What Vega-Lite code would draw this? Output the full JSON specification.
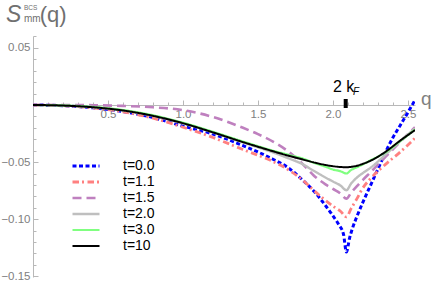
{
  "$schema": "https://vega.github.io/schema/vega-lite/v6.json",
  "width": 382,
  "height": 241,
  "autosize": {"type": "none"},
  "padding": {"left": 33, "top": 36, "right": 21, "bottom": 9},
  "config": {"view": {"stroke": null}, "font": "Liberation Sans"},
  "datasets": {
    "curves": [
      {"q": 0, "S": 0, "t": "t=0.0"}, {"q": 0.2, "S": -0.0006, "t": "t=0.0"}, {"q": 0.4, "S": -0.0025, "t": "t=0.0"}, {"q": 0.6, "S": -0.0058, "t": "t=0.0"}, {"q": 0.8, "S": -0.011, "t": "t=0.0"}, {"q": 1.0, "S": -0.0185, "t": "t=0.0"}, {"q": 1.2, "S": -0.0255, "t": "t=0.0"}, {"q": 1.4, "S": -0.0355, "t": "t=0.0"}, {"q": 1.6, "S": -0.0475, "t": "t=0.0"}, {"q": 1.7, "S": -0.0548, "t": "t=0.0"}, {"q": 1.8, "S": -0.066, "t": "t=0.0"}, {"q": 1.87, "S": -0.075, "t": "t=0.0"}, {"q": 1.95, "S": -0.088, "t": "t=0.0"}, {"q": 2.0, "S": -0.097, "t": "t=0.0"}, {"q": 2.04, "S": -0.105, "t": "t=0.0"}, {"q": 2.07, "S": -0.113, "t": "t=0.0"}, {"q": 2.09, "S": -0.1287, "t": "t=0.0"}, {"q": 2.11, "S": -0.117, "t": "t=0.0"}, {"q": 2.13, "S": -0.108, "t": "t=0.0"}, {"q": 2.16, "S": -0.0975, "t": "t=0.0"}, {"q": 2.2, "S": -0.085, "t": "t=0.0"}, {"q": 2.25, "S": -0.0705, "t": "t=0.0"}, {"q": 2.3, "S": -0.056, "t": "t=0.0"}, {"q": 2.35, "S": -0.0415, "t": "t=0.0"}, {"q": 2.4, "S": -0.0285, "t": "t=0.0"}, {"q": 2.45, "S": -0.0175, "t": "t=0.0"}, {"q": 2.5, "S": -0.0065, "t": "t=0.0"}, {"q": 2.547, "S": 0.0044, "t": "t=0.0"},

      {"q": 0, "S": 0, "t": "t=1.1"}, {"q": 0.2, "S": -0.0006, "t": "t=1.1"}, {"q": 0.4, "S": -0.0025, "t": "t=1.1"}, {"q": 0.6, "S": -0.006, "t": "t=1.1"}, {"q": 0.8, "S": -0.0115, "t": "t=1.1"}, {"q": 1.0, "S": -0.0195, "t": "t=1.1"}, {"q": 1.2, "S": -0.0285, "t": "t=1.1"}, {"q": 1.4, "S": -0.039, "t": "t=1.1"}, {"q": 1.6, "S": -0.0495, "t": "t=1.1"}, {"q": 1.7, "S": -0.0565, "t": "t=1.1"}, {"q": 1.8, "S": -0.066, "t": "t=1.1"}, {"q": 1.87, "S": -0.0745, "t": "t=1.1"}, {"q": 1.95, "S": -0.0835, "t": "t=1.1"}, {"q": 2.0, "S": -0.0885, "t": "t=1.1"}, {"q": 2.05, "S": -0.093, "t": "t=1.1"}, {"q": 2.09, "S": -0.098, "t": "t=1.1"}, {"q": 2.12, "S": -0.091, "t": "t=1.1"}, {"q": 2.16, "S": -0.082, "t": "t=1.1"}, {"q": 2.2, "S": -0.0725, "t": "t=1.1"}, {"q": 2.25, "S": -0.0645, "t": "t=1.1"}, {"q": 2.35, "S": -0.052, "t": "t=1.1"}, {"q": 2.45, "S": -0.041, "t": "t=1.1"}, {"q": 2.547, "S": -0.029, "t": "t=1.1"},

      {"q": 0, "S": 0, "t": "t=1.5"}, {"q": 0.2, "S": 0, "t": "t=1.5"}, {"q": 0.4, "S": -0.0002, "t": "t=1.5"}, {"q": 0.6, "S": -0.0008, "t": "t=1.5"}, {"q": 0.8, "S": -0.002, "t": "t=1.5"}, {"q": 1.0, "S": -0.0045, "t": "t=1.5"}, {"q": 1.2, "S": -0.0105, "t": "t=1.5"}, {"q": 1.4, "S": -0.02, "t": "t=1.5"}, {"q": 1.5, "S": -0.0255, "t": "t=1.5"}, {"q": 1.6, "S": -0.032, "t": "t=1.5"}, {"q": 1.7, "S": -0.0405, "t": "t=1.5"}, {"q": 1.8, "S": -0.052, "t": "t=1.5"}, {"q": 1.87, "S": -0.0615, "t": "t=1.5"}, {"q": 1.95, "S": -0.0695, "t": "t=1.5"}, {"q": 2.0, "S": -0.0735, "t": "t=1.5"}, {"q": 2.05, "S": -0.0775, "t": "t=1.5"}, {"q": 2.09, "S": -0.082, "t": "t=1.5"}, {"q": 2.12, "S": -0.077, "t": "t=1.5"}, {"q": 2.16, "S": -0.071, "t": "t=1.5"}, {"q": 2.2, "S": -0.0655, "t": "t=1.5"}, {"q": 2.25, "S": -0.059, "t": "t=1.5"}, {"q": 2.35, "S": -0.0455, "t": "t=1.5"}, {"q": 2.45, "S": -0.032, "t": "t=1.5"}, {"q": 2.547, "S": -0.0195, "t": "t=1.5"},

      {"q": 0, "S": 0, "t": "t=2.0"}, {"q": 0.2, "S": -0.0005, "t": "t=2.0"}, {"q": 0.4, "S": -0.002, "t": "t=2.0"}, {"q": 0.6, "S": -0.0048, "t": "t=2.0"}, {"q": 0.8, "S": -0.0095, "t": "t=2.0"}, {"q": 1.0, "S": -0.016, "t": "t=2.0"}, {"q": 1.2, "S": -0.024, "t": "t=2.0"}, {"q": 1.4, "S": -0.0328, "t": "t=2.0"}, {"q": 1.6, "S": -0.0415, "t": "t=2.0"}, {"q": 1.7, "S": -0.0465, "t": "t=2.0"}, {"q": 1.8, "S": -0.052, "t": "t=2.0"}, {"q": 1.87, "S": -0.0575, "t": "t=2.0"}, {"q": 1.95, "S": -0.0635, "t": "t=2.0"}, {"q": 2.0, "S": -0.067, "t": "t=2.0"}, {"q": 2.05, "S": -0.0705, "t": "t=2.0"}, {"q": 2.09, "S": -0.0746, "t": "t=2.0"}, {"q": 2.12, "S": -0.069, "t": "t=2.0"}, {"q": 2.16, "S": -0.0635, "t": "t=2.0"}, {"q": 2.2, "S": -0.0595, "t": "t=2.0"}, {"q": 2.25, "S": -0.055, "t": "t=2.0"}, {"q": 2.35, "S": -0.0435, "t": "t=2.0"}, {"q": 2.45, "S": -0.0315, "t": "t=2.0"}, {"q": 2.547, "S": -0.0205, "t": "t=2.0"},

      {"q": 0, "S": 0, "t": "t=3.0"}, {"q": 0.2, "S": -0.0004, "t": "t=3.0"}, {"q": 0.4, "S": -0.0017, "t": "t=3.0"}, {"q": 0.6, "S": -0.0044, "t": "t=3.0"}, {"q": 0.8, "S": -0.009, "t": "t=3.0"}, {"q": 1.0, "S": -0.0155, "t": "t=3.0"}, {"q": 1.2, "S": -0.0235, "t": "t=3.0"}, {"q": 1.4, "S": -0.032, "t": "t=3.0"}, {"q": 1.6, "S": -0.04, "t": "t=3.0"}, {"q": 1.7, "S": -0.0435, "t": "t=3.0"}, {"q": 1.8, "S": -0.047, "t": "t=3.0"}, {"q": 1.87, "S": -0.0505, "t": "t=3.0"}, {"q": 1.95, "S": -0.054, "t": "t=3.0"}, {"q": 2.0, "S": -0.0565, "t": "t=3.0"}, {"q": 2.05, "S": -0.058, "t": "t=3.0"}, {"q": 2.09, "S": -0.06, "t": "t=3.0"}, {"q": 2.12, "S": -0.057, "t": "t=3.0"}, {"q": 2.16, "S": -0.0545, "t": "t=3.0"}, {"q": 2.2, "S": -0.052, "t": "t=3.0"}, {"q": 2.25, "S": -0.0485, "t": "t=3.0"}, {"q": 2.35, "S": -0.0415, "t": "t=3.0"}, {"q": 2.45, "S": -0.0315, "t": "t=3.0"}, {"q": 2.547, "S": -0.0215, "t": "t=3.0"},

      {"q": 0, "S": 0, "t": "t=10"}, {"q": 0.2, "S": -0.0005, "t": "t=10"}, {"q": 0.4, "S": -0.002, "t": "t=10"}, {"q": 0.6, "S": -0.0048, "t": "t=10"}, {"q": 0.8, "S": -0.0095, "t": "t=10"}, {"q": 1.0, "S": -0.016, "t": "t=10"}, {"q": 1.2, "S": -0.024, "t": "t=10"}, {"q": 1.4, "S": -0.0325, "t": "t=10"}, {"q": 1.6, "S": -0.0405, "t": "t=10"}, {"q": 1.7, "S": -0.0443, "t": "t=10"}, {"q": 1.8, "S": -0.0478, "t": "t=10"}, {"q": 1.87, "S": -0.0502, "t": "t=10"}, {"q": 1.95, "S": -0.0525, "t": "t=10"}, {"q": 2.0, "S": -0.0536, "t": "t=10"}, {"q": 2.05, "S": -0.0543, "t": "t=10"}, {"q": 2.09, "S": -0.0545, "t": "t=10"}, {"q": 2.12, "S": -0.0542, "t": "t=10"}, {"q": 2.16, "S": -0.0532, "t": "t=10"}, {"q": 2.2, "S": -0.0515, "t": "t=10"}, {"q": 2.25, "S": -0.0488, "t": "t=10"}, {"q": 2.35, "S": -0.041, "t": "t=10"}, {"q": 2.45, "S": -0.031, "t": "t=10"}, {"q": 2.547, "S": -0.022, "t": "t=10"}
    ],
    "kf": [{"q": 2.085, "S": 0.0013}],
    "kfLabel": [{"q": 2.0, "S": 0.0114, "text": "2 k"}],
    "kfSub": [{"q": 2.133, "S": 0.0088, "text": "F"}],
    "titleS": [{"q": -0.18, "S": 0.0727, "text": "S"}],
    "titleSup": [{"q": -0.06, "S": 0.0832, "text": "BCS"}],
    "titleSub": [{"q": -0.06, "S": 0.0729, "text": "mm"}],
    "titleArg": [{"q": 0.045, "S": 0.0727, "text": "(q)"}],
    "axisQ": [{"q": 2.587, "S": 0.0, "text": "q"}]
  },
  "encoding": {
    "x": {
      "field": "q", "type": "quantitative",
      "scale": {"domain": [0, 2.547], "nice": false, "zero": false},
      "axis": {
        "orient": "bottom", "offset": -172, "title": null, "grid": false,
        "values": [0.1, 0.2, 0.3, 0.4, 0.5, 0.6, 0.7, 0.8, 0.9, 1.0, 1.1, 1.2, 1.3, 1.4, 1.5, 1.6, 1.7, 1.8, 1.9, 2.0, 2.1, 2.2, 2.3, 2.4, 2.5],
        "labelExpr": "abs(datum.value*2 - round(datum.value*2)) < 0.001 ? format(datum.value, '.1f') : ''",
        "tickSize": {"condition": {"test": "abs(datum.value*2 - round(datum.value*2)) < 0.001", "value": -5}, "value": -3},
        "domainColor": "#b8b8b8", "tickColor": "#b8b8b8", "labelColor": "#808080",
        "labelFontSize": 11.5, "labelPadding": 8, "labelFlush": false, "labelOverlap": false
      }
    },
    "y": {
      "field": "S", "type": "quantitative",
      "scale": {"domain": [-0.1506, 0.0604], "nice": false, "zero": false},
      "axis": {
        "title": null, "grid": false,
        "values": [-0.15, -0.14, -0.13, -0.12, -0.11, -0.1, -0.09, -0.08, -0.07, -0.06, -0.05, -0.04, -0.03, -0.02, -0.01, 0.01, 0.02, 0.03, 0.04, 0.05, 0.06],
        "labelExpr": "abs(datum.value*20 - round(datum.value*20)) < 0.001 ? format(datum.value, '.2f') : ''",
        "tickSize": {"condition": {"test": "abs(datum.value*20 - round(datum.value*20)) < 0.001", "value": -5}, "value": -3},
        "domainColor": "#b8b8b8", "tickColor": "#b8b8b8", "labelColor": "#808080",
        "labelFontSize": 11.5, "labelPadding": 8, "labelFlush": false, "labelOverlap": false
      }
    }
  },
  "layer": [
    {
      "data": {"name": "curves"},
      "mark": {"type": "line", "interpolate": "monotone", "clip": true},
      "encoding": {
        "color": {
          "field": "t", "type": "nominal",
          "scale": {"domain": ["t=0.0", "t=1.1", "t=1.5", "t=2.0", "t=3.0", "t=10"], "range": ["#0000ff", "#ff8080", "#bf80bf", "#bfbfbf", "#80ff80", "#000000"]},
          "legend": {
            "orient": "none", "legendX": 46, "legendY": 123, "title": null,
            "symbolType": "M-2.7,0H2.7", "symbolSize": 100, "labelFontSize": 14, "labelColor": "#000000",
            "labelOffset": 30, "rowPadding": 2, "padding": 0
          }
        },
        "strokeDash": {
          "field": "t", "type": "nominal",
          "scale": {"domain": ["t=0.0", "t=1.1", "t=1.5", "t=2.0", "t=3.0", "t=10"], "range": [[4, 2.5], [6.5, 3, 2, 3.5], [9, 5], [1, 0], [1, 0], [1, 0]]}
        },
        "strokeWidth": {
          "field": "t", "type": "nominal",
          "scale": {"domain": ["t=0.0", "t=1.1", "t=1.5", "t=2.0", "t=3.0", "t=10"], "range": [3, 2, 2.5, 2, 2, 3]}
        }
      }
    },
    {
      "data": {"name": "kf"},
      "mark": {"type": "tick", "orient": "vertical", "size": 9, "thickness": 4, "color": "#000000", "opacity": 1}
    },
    {
      "data": {"name": "kfLabel"},
      "mark": {"type": "text", "align": "left", "baseline": "alphabetic", "fontSize": 16, "color": "#000000"},
      "encoding": {"text": {"field": "text"}}
    },
    {
      "data": {"name": "kfSub"},
      "mark": {"type": "text", "align": "left", "baseline": "alphabetic", "fontSize": 10, "fontStyle": "italic", "color": "#000000"},
      "encoding": {"text": {"field": "text"}}
    },
    {
      "data": {"name": "titleS"},
      "mark": {"type": "text", "align": "left", "baseline": "alphabetic", "fontSize": 23, "fontStyle": "italic", "color": "#707070"},
      "encoding": {"text": {"field": "text"}}
    },
    {
      "data": {"name": "titleSup"},
      "mark": {"type": "text", "align": "left", "baseline": "alphabetic", "fontSize": 6.5, "color": "#707070"},
      "encoding": {"text": {"field": "text"}}
    },
    {
      "data": {"name": "titleSub"},
      "mark": {"type": "text", "align": "left", "baseline": "alphabetic", "fontSize": 10, "color": "#707070"},
      "encoding": {"text": {"field": "text"}}
    },
    {
      "data": {"name": "titleArg"},
      "mark": {"type": "text", "align": "left", "baseline": "alphabetic", "fontSize": 22, "color": "#707070"},
      "encoding": {"text": {"field": "text"}}
    },
    {
      "data": {"name": "axisQ"},
      "mark": {"type": "text", "align": "left", "baseline": "alphabetic", "fontSize": 19, "color": "#808080"},
      "encoding": {"text": {"field": "text"}}
    }
  ]
}
